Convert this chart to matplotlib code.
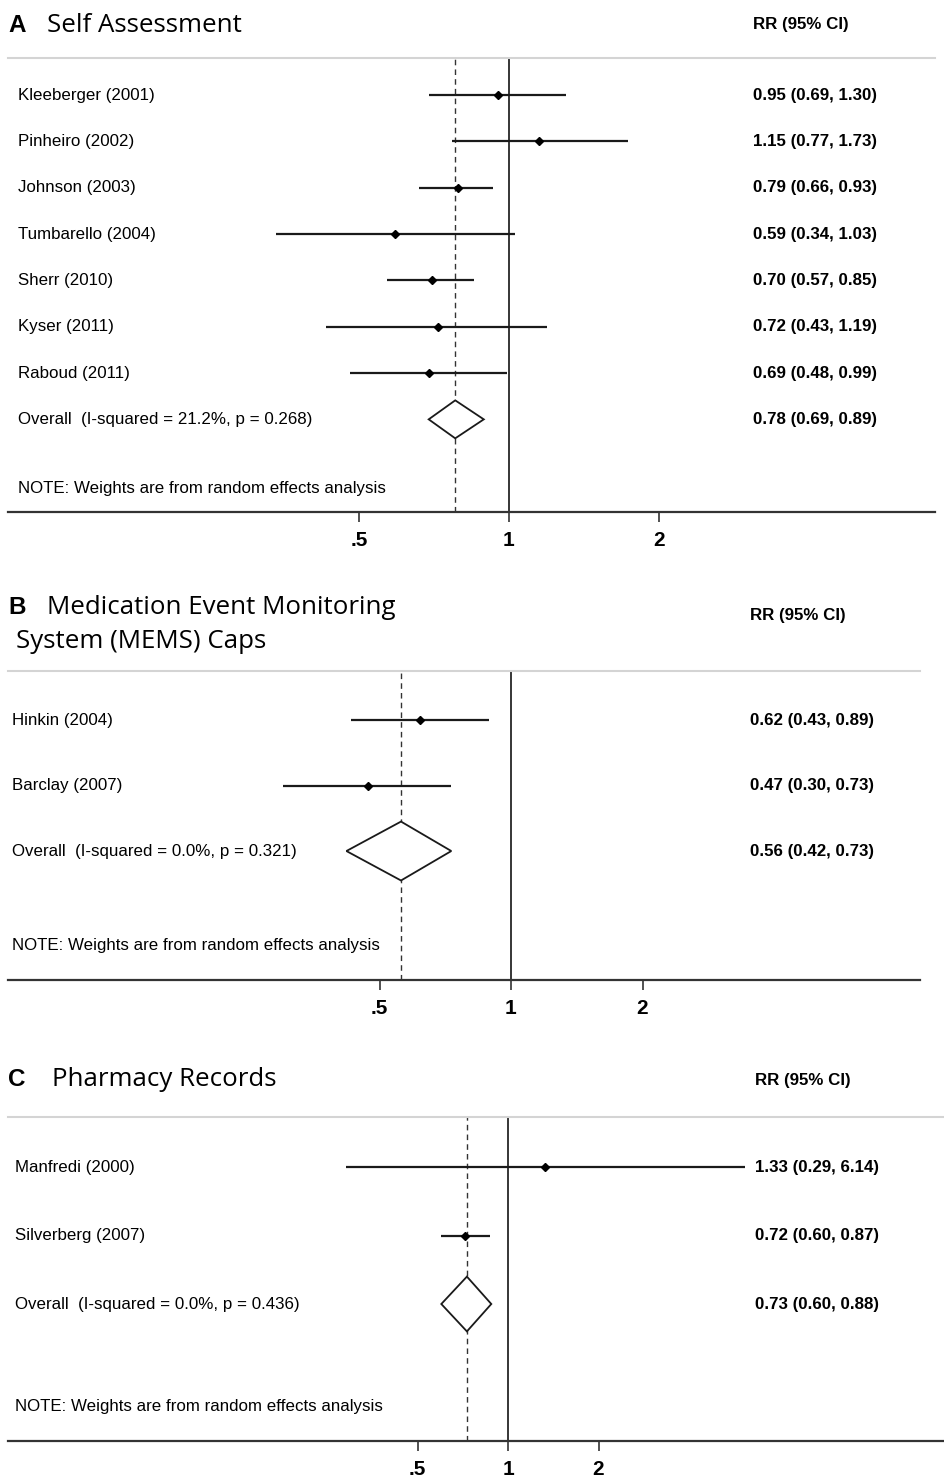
import matplotlib
matplotlib.use("Agg")
import matplotlib.pyplot as plt
import matplotlib.transforms as mtransforms

# Panel A - self assessment
a_studies = ["Kleeberger (2001)", "Pinheiro (2002)", "Johnson (2003)", "Tumbarello (2004)",
             "Sherr (2010)", "Kyser (2011)", "Raboud (2011)"]
a_rr = [0.95, 1.15, 0.79, 0.59, 0.70, 0.72, 0.69]
a_lo = [0.69, 0.77, 0.66, 0.34, 0.57, 0.43, 0.48]
a_hi = [1.30, 1.73, 0.93, 1.03, 0.85, 1.19, 0.99]
a_overall = (0.78, 0.69, 0.89)
a_overall_label = "Overall  (I-squared = 21.2%, p = 0.268)"

# Panel B - MEMS caps
b_studies = ["Hinkin (2004)", "Barclay (2007)"]
b_rr = [0.62, 0.47]
b_lo = [0.43, 0.30]
b_hi = [0.89, 0.73]
b_overall = (0.56, 0.42, 0.73)
b_overall_label = "Overall  (I-squared = 0.0%, p = 0.321)"

# Panel C - pharmacy records
c_studies = ["Manfredi (2000)", "Silverberg (2007)"]
c_rr = [1.33, 0.72]
c_lo = [0.29, 0.60]
c_hi = [6.14, 0.87]
c_overall = (0.73, 0.60, 0.88)
c_overall_label = "Overall  (I-squared = 0.0%, p = 0.436)"

tick_vals = [0.5, 1, 2]
tick_labels = [".5", "1", "2"]
note = "NOTE: Weights are from random effects analysis"

W, H = 944, 1477
LBL_FONT = ["Liberation Sans", "DejaVu Sans"]
TITLE_FONT = ["Open Sans", "DejaVu Sans"]
FS = 12.2

fig = plt.figure(figsize=(W / 100, H / 100), dpi=100)


def fmt(r, l, h):
    return "%.2f (%.2f, %.2f)" % (r, l, h)


def draw_panel(letter, title, studies, rr, lo, hi, overall, overall_label, lay):
    L, R, p1, u = lay["L"], lay["R"], lay["p1"], lay["unit"]
    top, bottom = lay["top"], lay["bottom"]
    ax = fig.add_axes([L / W, 1 - bottom / H, (R - L) / W, (bottom - top) / H])
    ax.set_xscale("log")
    ax.set_xlim(2 ** ((L - p1) / u), 2 ** ((R - p1) / u))
    ax.set_ylim(lay["ymax"], lay["ymin"])

    n = len(studies)
    rows = list(range(n))
    ov_row = n
    note_row = lay["note_row"]

    # reference lines
    ax.axvline(1, color="black", lw=1.1, zorder=1)
    ax.axvline(overall[0], color="#333333", lw=1.0, ls=(0, (4, 3)), zorder=1)

    # study CIs and point estimates
    ax.hlines(rows, lo, hi, color="#1a1a1a", lw=1.6, zorder=2)
    ax.plot(rr, rows, ls="none", marker="D", ms=4.5, color="black", zorder=3)

    # pooled diamond
    r, l, h = overall
    d = lay["dh"]
    ax.fill([l, r, h, r, l], [ov_row, ov_row - d, ov_row, ov_row + d, ov_row],
            facecolor="white", edgecolor="#1a1a1a", lw=1.3, zorder=3)

    # spines / ticks
    for s in ["left", "right"]:
        ax.spines[s].set_visible(False)
    ax.spines["bottom"].set_linewidth(1.6)
    ax.spines["bottom"].set_color("#333333")
    ax.spines["top"].set_color("#d4d4d4")
    ax.spines["top"].set_linewidth(1.5)
    ax.set_yticks([])
    ax.set_xticks(tick_vals)
    ax.set_xticklabels(tick_labels)
    ax.minorticks_off()
    ax.tick_params(axis="x", length=7, width=1.2, pad=7, labelsize=15, color="#333333")
    for t in ax.get_xticklabels():
        t.set_fontfamily(LBL_FONT)
        t.set_fontweight("bold")

    # text columns
    tr = mtransforms.blended_transform_factory(fig.transFigure, ax.transData)
    lx = lay["label_x"] / W
    rx = lay["rr_x"] / W
    for i in rows:
        ax.text(lx, i, studies[i], transform=tr, va="center", ha="left",
                fontsize=FS, family=LBL_FONT)
        ax.text(rx, i, fmt(rr[i], lo[i], hi[i]), transform=tr, va="center", ha="left",
                fontsize=FS, family=LBL_FONT, fontweight="bold")
    ax.text(lx, ov_row, overall_label, transform=tr, va="center", ha="left",
            fontsize=FS, family=LBL_FONT)
    ax.text(rx, ov_row, fmt(*overall), transform=tr, va="center", ha="left",
            fontsize=FS, family=LBL_FONT, fontweight="bold")
    ax.text(lx, note_row, note, transform=tr, va="center", ha="left",
            fontsize=FS, family=LBL_FONT)

    # panel heading
    fig.text(8 / W, 1 - lay["title_y"] / H, letter, fontsize=17.5, fontweight="bold",
             family=LBL_FONT, va="center", ha="left")
    for k, line in enumerate(title):
        fig.text(lay["title_x"][k] / W, 1 - lay["title_ys"][k] / H, line, fontsize=18.6,
                 family=TITLE_FONT, va="center", ha="left")
    fig.text(rx, 1 - lay["rr_y"] / H, "RR (95% CI)", fontsize=FS, fontweight="bold",
             family=LBL_FONT, va="center", ha="left")
    return ax


draw_panel("A", ["Self Assessment"], a_studies, a_rr, a_lo, a_hi, a_overall, a_overall_label,
           dict(L=8, R=935, p1=509, unit=150, top=58, bottom=512, ymin=-0.8, ymax=9.0,
                note_row=8.5, dh=0.41, label_x=18, rr_x=753, title_y=25,
                title_x=[47], title_ys=[25], rr_y=25))

draw_panel("B", ["Medication Event Monitoring", "System (MEMS) Caps"], b_studies, b_rr, b_lo,
           b_hi, b_overall, b_overall_label,
           dict(L=8, R=920, p1=511, unit=131.5, top=671, bottom=980, ymin=-0.75, ymax=3.97,
                note_row=3.45, dh=0.45, label_x=12, rr_x=750, title_y=607,
                title_x=[47, 16], title_ys=[607, 642], rr_y=615))

draw_panel("C", ["Pharmacy Records"], c_studies, c_rr, c_lo, c_hi, c_overall, c_overall_label,
           dict(L=8, R=944, p1=508, unit=90.5, top=1117, bottom=1441, ymin=-0.73, ymax=4.0,
                note_row=3.5, dh=0.4, label_x=15, rr_x=755, title_y=1080,
                title_x=[52], title_ys=[1080], rr_y=1080))

fig.savefig("out.png", dpi=100, facecolor="white")
